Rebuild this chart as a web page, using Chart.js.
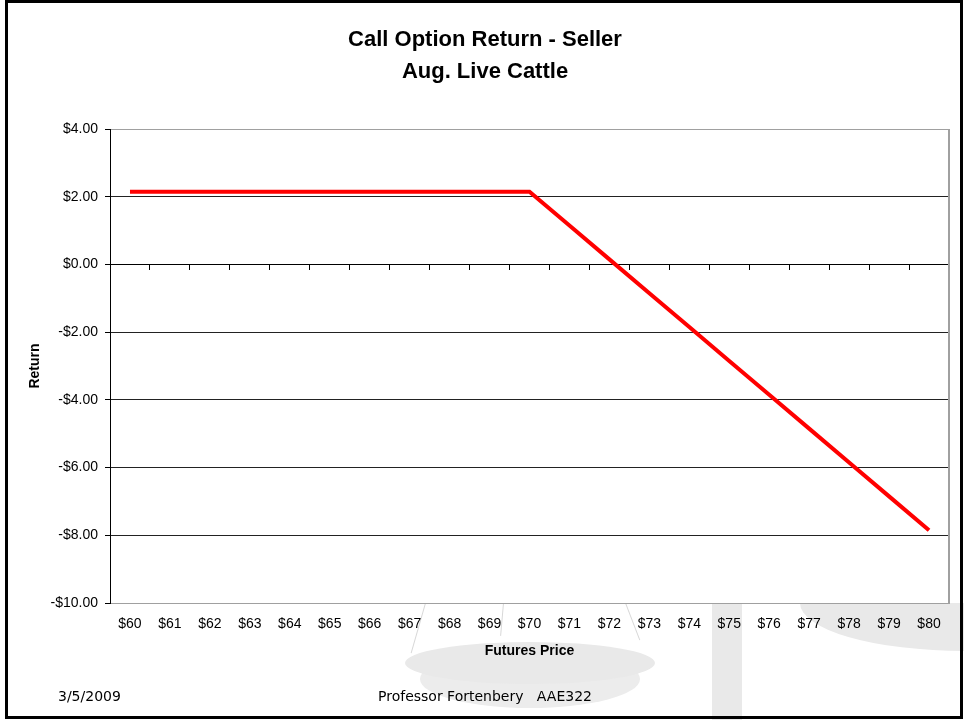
<!DOCTYPE html>
<html>
<head>
<meta charset="utf-8">
<script src="https://cdn.jsdelivr.net/npm/chart.js@4/dist/chart.umd.min.js"></script>
<style>
    html, body { margin: 0; padding: 0; background: #fff; overflow: hidden; }
    #slide { position: relative; width: 964px; height: 721px; }
    .wm { position: absolute; background: #e9e9e9; }
    .str { position: absolute; width: 1px; background: #d8d8d8; transform-origin: top left; }
    #chartBox { position: absolute; left: 0; top: 0; width: 964px; height: 721px; }
    #frame { position: absolute; left: 5px; top: 0; width: 958px; height: 719px; border: 3px solid #000; box-sizing: border-box; }
    .foot { position: absolute; top: 688px; font: 14px "DejaVu Sans", sans-serif; color: #000; white-space: pre; }
</style>
</head>
<body>
<div id="slide">
    <!-- faint background artwork of the slide -->
    <div class="wm" style="left:712px; top:560px; width:30px; height:160px;"></div>
    <div class="wm" style="left:800px; top:603px; width:330px; height:48px; border-radius:0 0 165px 165px / 0 0 48px 48px;"></div>
    <div class="wm" style="left:420px; top:650px; width:220px; height:58px; border-radius:50%; background:#ececec;"></div>
    <div class="wm" style="left:405px; top:642px; width:250px; height:42px; border-radius:50%;"></div>
    <div class="str" style="left:425px; top:603px; height:52px; transform:rotate(16deg);"></div>
    <div class="str" style="left:503px; top:603px; height:33px; transform:rotate(5deg);"></div>
    <div class="str" style="left:625px; top:603px; height:40px; transform:rotate(-21deg);"></div>

    <div id="chartBox"><canvas id="returnChart" width="964" height="721"></canvas></div>

    <div class="foot" style="left:58px;">3/5/2009</div>
    <div class="foot" style="left:378px;">Professor Fortenbery   AAE322</div>
    <div id="frame"></div>
</div>

<script>
/*==================================================
DATA
==================================================*/

const futuresPrices = [
    "$60", "$61", "$62", "$63", "$64", "$65", "$66", "$67", "$68", "$69", "$70",
    "$71", "$72", "$73", "$74", "$75", "$76", "$77", "$78", "$79", "$80"
];

const sellerReturns = [
    2.15, 2.15, 2.15, 2.15, 2.15, 2.15, 2.15, 2.15, 2.15, 2.15, 2.15,
    1.15, 0.15, -0.85, -1.85, -2.85, -3.85, -4.85, -5.85, -6.85, -7.85
];

const returnTicks = [4, 2, 0, -2, -4, -6, -8, -10];

const chartTitle = ["Call Option Return - Seller", "Aug. Live Cattle"];

/*==================================================
HELPERS
==================================================*/

function money(v) {

    return (v < 0 ? "-$" : "$") + Math.abs(v).toFixed(2);

}

// white plot area + grey right edge, like the Excel plot frame
const plotFrame = {

    id: "plotFrame",

    beforeDraw(chart) {

        const a = chart.chartArea;
        const ctx = chart.ctx;
        ctx.save();
        ctx.fillStyle = "#fff";
        ctx.fillRect(a.left, a.top, a.right - a.left, a.bottom - a.top);
        ctx.restore();

    },

    beforeDatasetsDraw(chart) {

        const a = chart.chartArea;
        const ctx = chart.ctx;
        ctx.save();
        ctx.strokeStyle = "#a0a0a0";
        ctx.lineWidth = 2;
        ctx.beginPath();
        ctx.moveTo(a.right, a.top);
        ctx.lineTo(a.right, a.bottom);
        ctx.stroke();
        ctx.restore();

    }

};

/*==================================================
CHART
==================================================*/

Chart.defaults.font.family = '"Liberation Sans", Arial, sans-serif';
Chart.defaults.color = "#000";

new Chart(document.getElementById("returnChart"), {

    type: "line",

    data: {

        labels: futuresPrices,

        datasets: [{

            label: "Return",

            data: sellerReturns,

            xAxisID: "x",

            borderColor: "#ff0000",

            borderWidth: 4,

            pointRadius: 0,

            tension: 0,

            fill: false

        }]

    },

    options: {

        responsive: false,

        animation: false,

        layout: {

            padding: { top: 8, left: 21, right: 15, bottom: 61 }

        },

        plugins: {

            legend: { display: false },

            tooltip: { enabled: false },

            title: {

                display: true,

                text: chartTitle,

                color: "#000",

                font: { size: 22, weight: "bold", lineHeight: 32 / 22 },

                padding: { top: 16, bottom: 41 }

            }

        },

        scales: {

            x: {

                type: "category",

                position: "bottom",

                offset: true,

                grid: { display: false, drawTicks: false },

                border: { color: "#a0a0a0", width: 1 },

                ticks: { font: { size: 14 }, padding: 13, maxRotation: 0, autoSkip: false },

                title: {

                    display: true,

                    text: "Futures Price",

                    font: { size: 14, weight: "bold" },

                    padding: { top: 0, bottom: 0 }

                },

                afterFit(scale) { scale.height = 57; }

            },

            x2: {

                type: "category",

                axis: "x",

                position: { y: 0 },

                offset: true,

                grid: {

                    offset: true,

                    drawOnChartArea: false,

                    drawTicks: true,

                    tickLength: 5,

                    color: "#000"

                },

                border: { color: "#000", width: 1 },

                ticks: { display: false }

            },

            y: {

                position: "left",

                min: -10,

                max: 4,

                afterBuildTicks(scale) {

                    scale.ticks = returnTicks.map(v => ({ value: v }));

                },

                grid: {

                    color: c => (c.tick && (c.tick.value === 4 || c.tick.value === -10)) ? "#a0a0a0" : "#222",

                    tickColor: "#000",

                    tickLength: 5,

                    lineWidth: 1

                },

                border: { color: "#000", width: 1 },

                ticks: {

                    font: { size: 14 },

                    padding: 7,

                    callback: v => money(v)

                },

                title: {

                    display: true,

                    text: "Return",

                    font: { size: 14, weight: "bold" },

                    padding: { top: 5.6, bottom: 0 }

                },

                afterFit(scale) { scale.width = 89; }

            }

        }

    },

    plugins: [plotFrame]

});
</script>
</body>
</html>
